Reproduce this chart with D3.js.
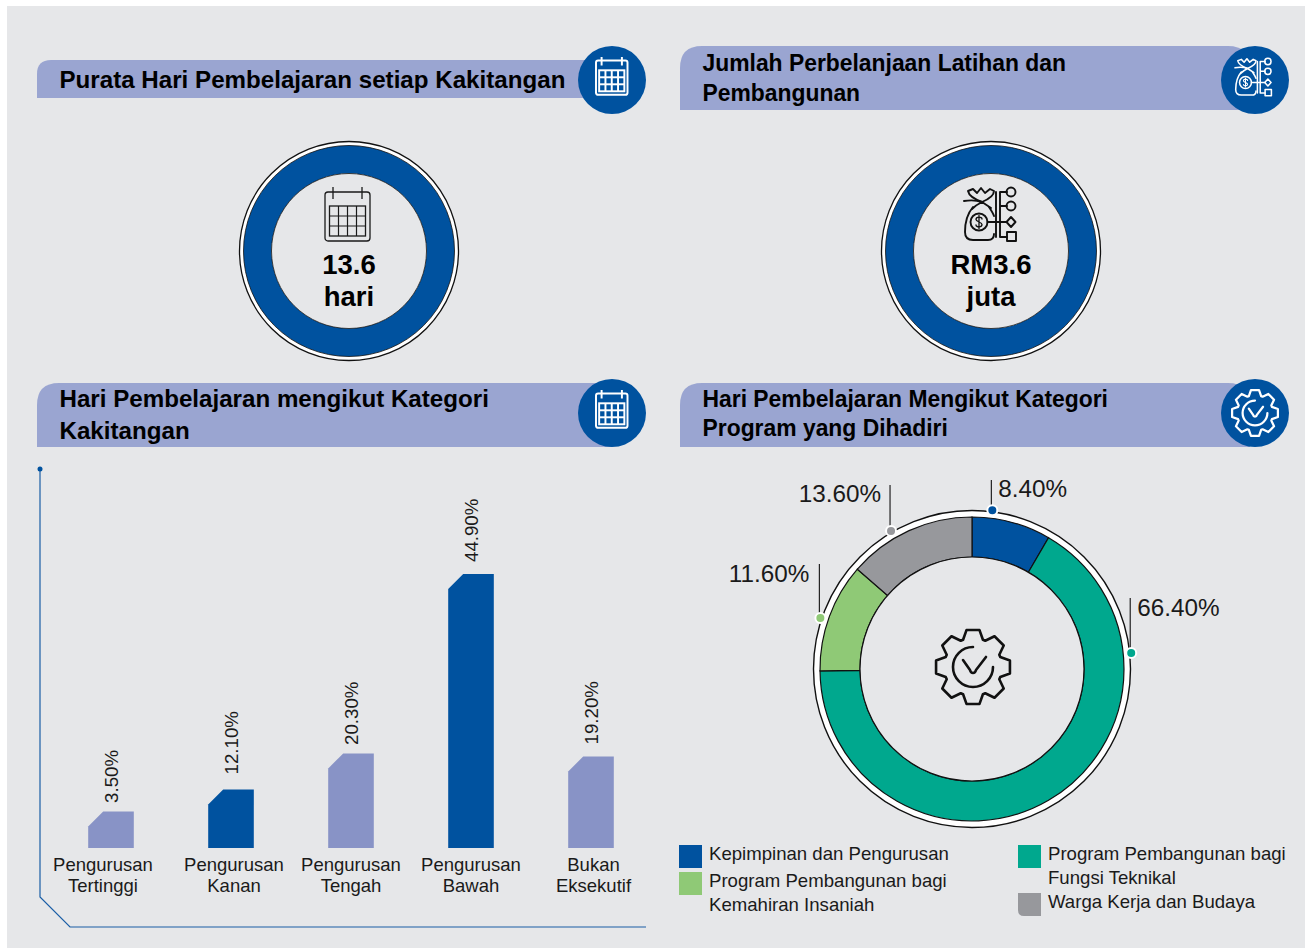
<!DOCTYPE html>
<html>
<head>
<meta charset="utf-8">
<script src="https://cdnjs.cloudflare.com/ajax/libs/d3/7.8.5/d3.min.js"></script>
<style>
  html, body { margin: 0; padding: 0; background: #fff; }
  svg { display: block; }
  text { font-family: "Liberation Sans", Arial, sans-serif; fill: #1a1a1a; }
</style>
</head>
<body>
<div id="plot"></div>
<script>
// bar chart
const categories = [
  ["Pengurusan", "Tertinggi"],
  ["Pengurusan", "Kanan"],
  ["Pengurusan", "Tengah"],
  ["Pengurusan", "Bawah"],
  ["Bukan", "Eksekutif"],
];
const barLabels = ["3.50%", "12.10%", "20.30%", "44.90%", "19.20%"];
// bars in the source are not drawn to their printed value, so heights are read off the picture
const barHeights = [6.0, 9.6, 15.5, 44.9, 15.0];
const barHighlight = [false, true, false, true, false];

// donut
const programs = [
  ["Kepimpinan dan Pengurusan"],
  ["Program Pembangunan bagi", "Fungsi Teknikal"],
  ["Program Pembangunan bagi", "Kemahiran Insaniah"],
  ["Warga Kerja dan Budaya"],
];
const shares = [8.4, 66.4, 11.6, 13.6];
const shareLabels = ["8.40%", "66.40%", "11.60%", "13.60%"];

const blue = "#00529f";
const lilac = "#9aa5d1";
const barLilac = "#8893c6";
const programColors = [blue, "#00a88e", "#8fc976", "#97989c"];
const ink = "#1a1a1a";

const w = 1312;
const h = 948;

const svg = d3.select("div#plot").append("svg")
  .attr("width", w)
  .attr("height", h);

svg.append("rect")
  .attr("x", 7).attr("y", 6)
  .attr("width", 1298).attr("height", 942)
  .attr("fill", "#e6e7e9");

function calendarIcon(g, color, sw, grid) {
  g.attr("fill", "none").attr("stroke", color).attr("stroke-width", sw);
  g.append("rect").attr("x", 0).attr("y", 5).attr("width", 45).attr("height", 49).attr("rx", 3);
  g.append("path").attr("d", "M8 0V12M37 0V12");
  g.append("rect").attr("x", 4.5).attr("y", 19).attr("width", 36).attr("height", 30);
  d3.range(1, 4).forEach(i => {
    g.append("line").attr("x1", 4.5 + i * 9).attr("x2", 4.5 + i * 9).attr("y1", 19).attr("y2", 49).attr("stroke-width", grid);
  });
  d3.range(1, 3).forEach(i => {
    g.append("line").attr("x1", 4.5).attr("x2", 40.5).attr("y1", 19 + i * 10).attr("y2", 19 + i * 10).attr("stroke-width", grid);
  });
}

function moneyIcon(g, color, sw) {
  g.attr("fill", "none").attr("stroke", color).attr("stroke-width", sw)
    .attr("stroke-linejoin", "round").attr("stroke-linecap", "round");
  g.append("path").attr("d", "M4 4L9 2L13 6L17 1L21 6L26 2L30 4C30 9 25 12 18 15C10 12 5 9 4 4Z");
  g.append("path").attr("d", "M0 14C6 13 12 13 18 15C14 17 10 20 8 22M18 15C21 17 24 19 27 21");
  g.append("path").attr("d", "M9 20C3 27 1 35 1 45C1 51 4 53 9 53H24C28 53 30 51 30 47");
  g.append("path").attr("d", "M25 20C27 23 29 26 30 29");
  g.append("circle").attr("cx", 15).attr("cy", 35).attr("r", 8.5);
  g.append("path").attr("transform", "translate(15,35)")
    .attr("d", "M3 -3C3 -5.5 -3 -5.5 -3 -2.5C-3 0 3 0 3 2.5C3 5.5 -3 5.5 -3 3M0 -6.5V6.5")
    .attr("stroke-width", sw * .7);
  g.append("path").attr("d", "M23.5 35H43M32 5V50M36 5V50M36 5H43M36 19H43M36 50H43");
  g.append("circle").attr("cx", 47).attr("cy", 5).attr("r", 4.5);
  g.append("circle").attr("cx", 47).attr("cy", 19).attr("r", 4.5);
  g.append("path").attr("d", "M47 30L51.5 35L47 40L42.500 35Z");
  g.append("rect").attr("x", 43).attr("y", 45).attr("width", 9).attr("height", 9);
}

function gearIcon(g, color, sw) {
  g.attr("fill", "none").attr("stroke", color).attr("stroke-width", sw)
    .attr("stroke-linejoin", "round").attr("stroke-linecap", "round");
  const pts = [];
  d3.range(8).forEach(i => {
    const a = i * Math.PI / 4;
    const s = Math.PI / 180;
    pts.push([a - 20 * s, 29], [a - 10 * s, 37.5], [a + 10 * s, 37.5], [a + 20 * s, 29]);
  });
  g.append("path").attr("d", d3.lineRadial().curve(d3.curveLinearClosed)(pts));
  g.append("path").attr("d", d3.arc()({ innerRadius: 20, outerRadius: 20, startAngle: 0, endAngle: -Math.PI * 1.5 }));
  g.append("path").attr("d", "M-10 -7L-3 3C-2 7 2 7 3 3L13 -10");
}

// squeeze: the source title lines run slightly wider or narrower than the font here
function banner(x, y, width, height, rl, rr, lines, baselines, squeeze) {
  svg.append("path")
    .attr("d", `M${x} ${y + height}V${y + rl}Q${x} ${y} ${x + rl} ${y}H${x + width - rr}Q${x + width} ${y} ${x + width} ${y + rr}V${y + height}Z`)
    .attr("fill", lilac);
  lines.forEach((t, i) => {
    const label = svg.append("text")
      .attr("x", x + 22.500)
      .attr("y", baselines[i])
      .attr("font-size", 24)
      .attr("font-weight", "bold")
      .style("fill", "#000")
      .text(t);
    label.attr("textLength", label.node().getComputedTextLength() * squeeze)
      .attr("lengthAdjust", "spacingAndGlyphs");
  });
}

function badge(cx, cy) {
  svg.append("circle").attr("cx", cx).attr("cy", cy).attr("r", 34).attr("fill", blue);
}

banner(37, 60, 575, 38, 14, 0, ["Purata Hari Pembelajaran setiap Kakitangan"], [88], 1.006);
banner(680, 46, 570, 64, 22, 22, ["Jumlah Perbelanjaan Latihan dan", "Pembangunan"], [71, 101], 0.953);
banner(37, 383, 575, 64, 22, 0, ["Hari Pembelajaran mengikut Kategori", "Kakitangan"], [407, 439], 1.006);
banner(680, 383, 570, 64, 22, 22, ["Hari Pembelajaran Mengikut Kategori", "Program yang Dihadiri"], [407, 436], 0.953);

badge(612, 80);
badge(1255, 80);
badge(612, 413);
badge(1255, 413);

calendarIcon(svg.append("g").attr("transform", "translate(596,57) scale(0.7)"), "#fff", 2.8, 2.8);
calendarIcon(svg.append("g").attr("transform", "translate(596,390) scale(0.7)"), "#fff", 2.8, 2.8);
moneyIcon(svg.append("g").attr("transform", "translate(1235,58) scale(0.7)"), "#fff", 2.2);
gearIcon(svg.append("g").attr("transform", "translate(1255,413) scale(0.62)"), "#fff", 3.6);

// the two ring figures
function ring(cx, cy, lines) {
  svg.append("circle").attr("cx", cx).attr("cy", cy).attr("r", 109.500)
    .attr("fill", "#fff").attr("stroke", "#111").attr("stroke-width", 1.3);
  svg.append("circle").attr("cx", cx).attr("cy", cy).attr("r", 91.500)
    .attr("fill", "none").attr("stroke", blue).attr("stroke-width", 28);
  svg.append("circle").attr("cx", cx).attr("cy", cy).attr("r", 105.500)
    .attr("fill", "none").attr("stroke", "#111").attr("stroke-width", .8);
  svg.append("circle").attr("cx", cx).attr("cy", cy).attr("r", 77.500)
    .attr("fill", "#e6e7e9").attr("stroke", "#111").attr("stroke-width", .8);
  lines.forEach((t, i) => {
    svg.append("text")
      .attr("x", cx).attr("y", cy + 23 + i * 32)
      .attr("text-anchor", "middle")
      .attr("font-size", 27.500)
      .attr("font-weight", "bold")
      .style("fill", "#000")
      .text(t);
  });
}

ring(349, 251, ["13.6", "hari"]);
ring(991, 251, ["RM3.6", "juta"]);
calendarIcon(svg.append("g").attr("transform", "translate(325,187)"), ink, 1.3, 1.2);
moneyIcon(svg.append("g").attr("transform", "translate(964,187)"), "#111", 1.9);

// bar chart axis frame
svg.append("path")
  .attr("d", "M40 469V897L70 927H646")
  .attr("fill", "none")
  .attr("stroke", "#1a5ea6")
  .attr("stroke-width", 1.2);
svg.append("circle").attr("cx", 40).attr("cy", 469).attr("r", 2.5).attr("fill", blue);

const baseY = 848;
const names = categories.map(d => d.join(" "));
const xScale = d3.scaleBand().domain(names).range([51, 651]).paddingInner(0.62).paddingOuter(0.31);
const yScale = d3.scaleLinear().domain([0, 44.9]).range([baseY, 574]);

const chamfer = 15;
svg.selectAll(".bar")
  .data(barHeights)
  .enter()
  .append("path")
  .attr("class", "bar")
  .attr("d", (d, i) => {
    const x = xScale(names[i]);
    const top = yScale(d);
    return `M${x} ${baseY}V${top + chamfer}L${x + chamfer} ${top}H${x + xScale.bandwidth()}V${baseY}Z`;
  })
  .attr("fill", (d, i) => barHighlight[i] ? blue : barLilac);

const labelGap = [8.5, 15, 8.5, 12, 12];
svg.selectAll(".bar-label")
  .data(barLabels)
  .enter()
  .append("text")
  .attr("class", "bar-label")
  .attr("transform", (d, i) => `translate(${xScale(names[i]) + xScale.bandwidth() / 2 + 7},${yScale(barHeights[i]) - labelGap[i]}) rotate(-90)`)
  .attr("font-size", 18.700)
  .text(d => d);

const tickNudge = [-8, 3, 0, 0, 2.5];
const xAxis = d3.axisBottom(xScale).tickSize(0);
const xAxisGroup = svg.append("g")
  .attr("transform", `translate(0,${baseY})`)
  .call(xAxis);
xAxisGroup.select(".domain").remove();
xAxisGroup.selectAll(".tick text").each(function (d, i) {
  const t = d3.select(this).text(null)
    .attr("font-size", 18.500)
    .attr("x", tickNudge[i])
    .attr("y", 0)
    .attr("dy", null);
  categories[i].forEach((line, j) => {
    t.append("tspan").attr("x", tickNudge[i]).attr("y", 23 + j * 21).text(line);
  });
});

// donut
const cx = 972;
const cy = 669;
const donut = svg.append("g").attr("transform", `translate(${cx},${cy})`);
donut.append("circle").attr("r", 158.500).attr("fill", "#fff").attr("stroke", "#111").attr("stroke-width", 1.4);

const pie = d3.pie().sort(null).value(d => d);
const arc = d3.arc().innerRadius(112).outerRadius(152);
donut.selectAll(".slice")
  .data(pie(shares))
  .enter()
  .append("path")
  .attr("class", "slice")
  .attr("d", arc)
  .attr("fill", (d, i) => programColors[i])
  .attr("stroke", "#111")
  .attr("stroke-width", 1.2);
donut.append("circle").attr("r", 112).attr("fill", "#e6e7e9").attr("stroke", "#111").attr("stroke-width", 1.2);

gearIcon(svg.append("g").attr("transform", "translate(973,667)"), "#111", 2.6);

// callouts: dot angle on the outer ring (degrees), leader top, label offset
const callouts = [
  { angle: 7.3, top: 480, dx: 6, dy: 17, anchor: "start" },
  { angle: 84.3, top: 598, dx: 6, dy: 18, anchor: "start" },
  { angle: -71.4, top: 564, dx: -11, dy: 18, anchor: "end" },
  { angle: -30.4, top: 485, dx: -10, dy: 17, anchor: "end" },
];
callouts.forEach((c, i) => {
  const a = c.angle * Math.PI / 180;
  const x = cx + 160 * Math.sin(a);
  const y = cy - 160 * Math.cos(a);
  svg.append("line")
    .attr("x1", x - 1).attr("x2", x - 1)
    .attr("y1", c.top).attr("y2", y)
    .attr("stroke", "#111").attr("stroke-width", 1.1);
  svg.append("circle")
    .attr("cx", x).attr("cy", y).attr("r", 5)
    .attr("fill", programColors[i])
    .attr("stroke", "#fff").attr("stroke-width", 2);
  svg.append("text")
    .attr("x", x + c.dx).attr("y", c.top + c.dy)
    .attr("text-anchor", c.anchor)
    .attr("font-size", 24.300)
    .text(shareLabels[i]);
});

// legend
const legendSpots = [
  { x: 679, y: 845 },
  { x: 1018, y: 845 },
  { x: 679, y: 872 },
  { x: 1018, y: 893 },
];
programs.forEach((lines, i) => {
  const p = legendSpots[i];
  svg.append("path")
    .attr("d", i === 3
      ? `M${p.x} ${p.y}H${p.x + 23}V${p.y + 23}H${p.x + 6}Q${p.x} ${p.y + 23} ${p.x} ${p.y + 17}Z`
      : `M${p.x} ${p.y}H${p.x + 23}V${p.y + 23}H${p.x}Z`)
    .attr("fill", programColors[i]);
  lines.forEach((t, j) => {
    svg.append("text")
      .attr("x", p.x + 30)
      .attr("y", p.y + 15 + j * 24)
      .attr("font-size", 18.600)
      .text(t);
  });
});
</script>
</body>
</html>
